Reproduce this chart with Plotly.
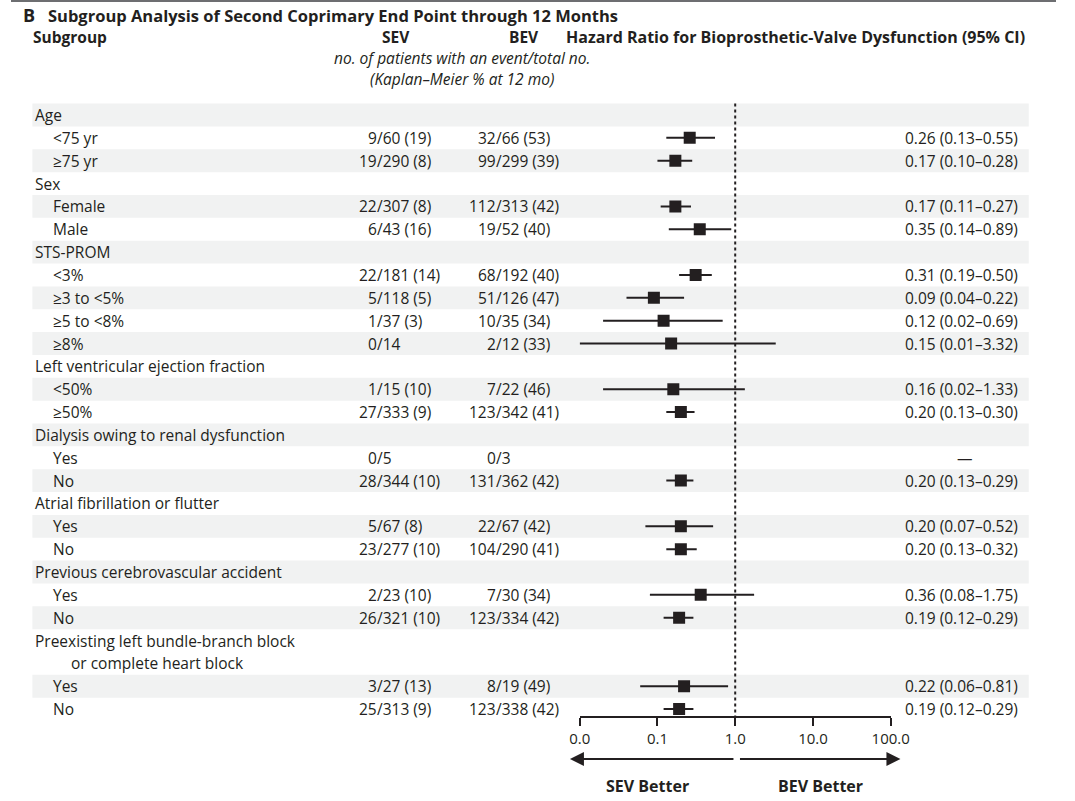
import plotly.graph_objects as go

# ---------------- data ----------------
labels = ["Age", "<75 yr", "≥75 yr", "Sex", "Female", "Male", "STS-PROM", "<3%", "≥3 to <5%",
          "≥5 to <8%", "≥8%", "Left ventricular ejection fraction", "<50%", "≥50%",
          "Dialysis owing to renal dysfunction", "Yes", "No", "Atrial fibrillation or flutter",
          "Yes", "No", "Previous cerebrovascular accident", "Yes", "No",
          "Preexisting left bundle-branch block", "or complete heart block", "Yes", "No"]
levels = [0, 1, 1, 0, 1, 1, 0, 1, 1, 1, 1, 0, 1, 1, 0, 1, 1, 0, 1, 1, 0, 1, 1, 0, 2, 1, 1]
sev = ["", "9/60 (19)", "19/290 (8)", "", "22/307 (8)", "6/43 (16)", "", "22/181 (14)",
       "5/118 (5)", "1/37 (3)", "0/14", "", "1/15 (10)", "27/333 (9)", "", "0/5",
       "28/344 (10)", "", "5/67 (8)", "23/277 (10)", "", "2/23 (10)", "26/321 (10)", "", "",
       "3/27 (13)", "25/313 (9)"]
bev = ["", "32/66 (53)", "99/299 (39)", "", "112/313 (42)", "19/52 (40)", "", "68/192 (40)",
       "51/126 (47)", "10/35 (34)", "2/12 (33)", "", "7/22 (46)", "123/342 (41)", "", "0/3",
       "131/362 (42)", "", "22/67 (42)", "104/290 (41)", "", "7/30 (34)", "123/334 (42)", "", "",
       "8/19 (49)", "123/338 (42)"]
hr = [None, 0.26, 0.17, None, 0.17, 0.35, None, 0.31, 0.09, 0.12, 0.15, None, 0.16, 0.20,
      None, None, 0.20, None, 0.20, 0.20, None, 0.36, 0.19, None, None, 0.22, 0.19]
lo = [None, 0.13, 0.10, None, 0.11, 0.14, None, 0.19, 0.04, 0.02, 0.01, None, 0.02, 0.13,
      None, None, 0.13, None, 0.07, 0.13, None, 0.08, 0.12, None, None, 0.06, 0.12]
hi = [None, 0.55, 0.28, None, 0.27, 0.89, None, 0.50, 0.22, 0.69, 3.32, None, 1.33, 0.30,
      None, None, 0.29, None, 0.52, 0.32, None, 1.75, 0.29, None, None, 0.81, 0.29]
tick_vals = [0.01, 0.1, 1, 10, 100]
tick_text = ["0.0", "0.1", "1.0", "10.0", "100.0"]

# ---------------- layout constants (pixels) ----------------
W, H = 1075, 801
ROW0 = 115.0      # y of first row
STEP = 22.85      # row pitch
AXIS_Y = 717.0
AX_L, AX_R = 585.0, 905.0
INK = "#231f20"
SHADE = "#f1f2f2"
FONT = "Open Sans"
FS = 15.5

def xp(px):
    return px / W

def yp(py):
    return 1 - py / H

n = len(labels)
rows = list(range(n))
ymax = (H - ROW0) / STEP
ymin = -ROW0 / STEP
axis_row = (AXIS_Y - ROW0) / STEP

fig = go.Figure()

# CI lines
cx, cy = [], []
for i in rows:
    if hr[i] is not None:
        cx += [lo[i], hi[i], None]
        cy += [i, i, None]
fig.add_trace(go.Scatter(x=cx, y=cy, mode="lines", line=dict(color=INK, width=2),
                         hoverinfo="skip", showlegend=False))
# reference line at HR = 1
fig.add_trace(go.Scatter(x=[1, 1], y=[-0.5, axis_row], mode="lines",
                         line=dict(color=INK, width=2, dash="3px,3px"),
                         hoverinfo="skip", showlegend=False))
# point estimates
fig.add_trace(go.Scatter(x=[hr[i] for i in rows if hr[i] is not None],
                         y=[i for i in rows if hr[i] is not None],
                         mode="markers", marker=dict(symbol="square", size=12, color=INK,
                                                     line=dict(width=0)),
                         hoverinfo="skip", showlegend=False))

shapes = []
# top rule
shapes.append(dict(type="line", xref="paper", yref="paper", x0=0, x1=1, y0=yp(1), y1=yp(1),
                   line=dict(color="#6d6e71", width=2)))
# shading
k = 0
for i in rows:
    if levels[i] == 2:
        continue
    if k % 2 == 0:
        shapes.append(dict(type="rect", xref="paper", yref="y", x0=xp(22), x1=xp(1047),
                           y0=i - 0.5, y1=i + 0.5, fillcolor=SHADE, line=dict(width=0),
                           layer="below"))
    k += 1

ann = []
def txt(x, y, s, anchor="left", size=FS, bold=False, italic=False, yref="paper"):
    if bold:
        s = "<b>" + s + "</b>"
    if italic:
        s = "<i>" + s + "</i>"
    ann.append(dict(x=x, y=y, xref="paper", yref=yref, text=s, showarrow=False,
                    xanchor=anchor, yanchor="middle", borderpad=0, borderwidth=0,
                    font=dict(family=FONT, size=size, color=INK)))

# titles
txt(xp(12), yp(15), "B", size=18, bold=True)
txt(xp(38), yp(15), "Subgroup Analysis of Second Coprimary End Point through 12 Months",
    size=16.5, bold=True)
txt(xp(23), yp(37), "Subgroup", size=15.5, bold=True)
txt(xp(396), yp(37), "SEV", anchor="center", size=15.5, bold=True)
txt(xp(528), yp(37), "BEV", anchor="center", size=15.5, bold=True)
txt(xp(571), yp(37), "Hazard Ratio for Bioprosthetic-Valve Dysfunction (95% CI)", size=16,
    bold=True)
txt(xp(464), yp(58), "no. of patients with an event/total no.", anchor="center", size=15.5,
    italic=True)
txt(xp(464), yp(79), "(Kaplan–Meier % at 12 mo)", anchor="center", size=15.5, italic=True)

indent = [25, 43, 62]
SEV_SLASH, BEV_SLASH = 377, 499
for i in rows:
    txt(xp(indent[levels[i]]), i, labels[i], yref="y")
    for col, xs in ((sev, SEV_SLASH), (bev, BEV_SLASH)):
        if col[i]:
            a, b = col[i].split("/", 1)
            txt(xp(xs), i, a, anchor="right", yref="y")
            txt(xp(xs), i, "/" + b, anchor="left", yref="y")
    if hr[i] is not None:
        txt(xp(1036), i, f"{hr[i]:.2f} ({lo[i]:.2f}–{hi[i]:.2f})", anchor="right", yref="y")
    elif sev[i]:
        txt(xp(981), i, "—", anchor="center", yref="y")

txt(xp(655), yp(786), "SEV Better", anchor="center", size=16, bold=True)
txt(xp(833), yp(786), "BEV Better", anchor="center", size=16, bold=True)

# arrows
for head, tail in ((575, 740), (915, 753)):
    ann.append(dict(x=xp(head), y=yp(759), xref="paper", yref="paper", text="",
                    showarrow=True, ax=tail - head, ay=0, arrowhead=2, arrowsize=1.4,
                    arrowwidth=2, arrowcolor=INK, standoff=0, startstandoff=0))

fig.update_layout(
    width=W, height=H, autosize=False,
    margin=dict(l=0, r=0, t=0, b=0),
    paper_bgcolor="white", plot_bgcolor="white",
    shapes=shapes, annotations=ann,
    showlegend=False, hovermode=False,
    xaxis=dict(type="log", range=[-2, 2], domain=[xp(AX_L), xp(AX_R)], anchor="free",
               position=yp(AXIS_Y), showline=True, linecolor=INK, linewidth=2,
               ticks="outside", ticklen=8, tickwidth=2, tickcolor=INK,
               tickvals=tick_vals, ticktext=tick_text, showgrid=False, zeroline=False,
               tickfont=dict(family=FONT, size=15, color=INK), fixedrange=True),
    yaxis=dict(range=[ymax, ymin], domain=[0, 1], visible=False, fixedrange=True),
)

fig.write_html("out.html", config={"displayModeBar": False, "staticPlot": True},
               post_script="document.body.style.margin='0';")
